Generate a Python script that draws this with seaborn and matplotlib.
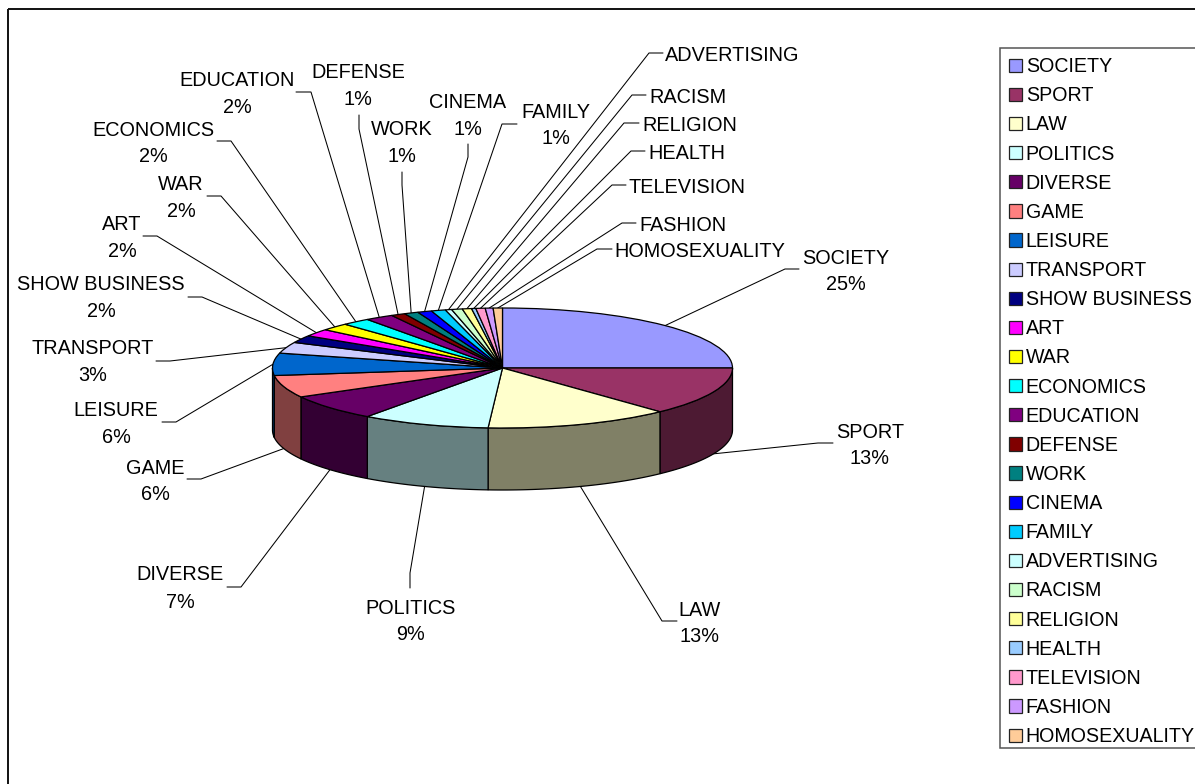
import numpy as np
import matplotlib
matplotlib.use("Agg")
import matplotlib.pyplot as plt
from matplotlib.patches import Patch, Rectangle
import seaborn as sns

# Share of articles per topic, in percent
topics = ["SOCIETY", "SPORT", "LAW", "POLITICS", "DIVERSE", "GAME", "LEISURE", "TRANSPORT",
          "SHOW BUSINESS", "ART", "WAR", "ECONOMICS", "EDUCATION", "DEFENSE", "WORK", "CINEMA",
          "FAMILY", "ADVERTISING", "RACISM", "RELIGION", "HEALTH", "TELEVISION", "FASHION",
          "HOMOSEXUALITY"]
shares = [25, 13, 13, 9, 7, 6, 6, 3, 2, 2, 2, 2, 2, 1, 1, 1, 1,
          0.45, 0.75, 0.65, 0.30, 0.65, 0.55, 0.65]
colours = ["#9999FF", "#993366", "#FFFFCC", "#CCFFFF", "#660066", "#FF8080", "#0066CC", "#CCCCFF",
           "#000080", "#FF00FF", "#FFFF00", "#00FFFF", "#800080", "#800000", "#008080", "#0000FF",
           "#00CCFF", "#CCFFFF", "#CCFFCC", "#FFFF99", "#99CCFF", "#FF99CC", "#CC99FF", "#FFCC99"]

# Label placement in canvas pixels: text centre x, name y, percent y (None = name only)
label_x = [846, 870, 700, 410.5, 180, 155, 116, 93, 101, 122, 181, 153, 237, 358, 402, 468, 556,
           732, 688, 690, 687, 687.5, 683, 700]
label_y = [258, 432, 610, 608, 575, 468, 410, 348, 284, 224, 184, 130, 80, 72, 129, 102, 112,
           55, 97, 125, 153, 187, 225, 251]
percent_y = [284, 458, 636, 635, 602, 494, 437, 375, 311, 251, 211, 156, 107, 99, 156, 129, 138,
             None, None, None, None, None, None, None]
# Leader route from the label side towards the slice: stub end, then elbow
leader_routes = [
    [(799, 269), (785, 269)], [(833, 443), (818, 443)], [(677, 621), (662, 621)],
    [(410, 588), (410, 573)], [(227, 587), (241, 587)], [(187, 479), (201, 479)],
    [(162, 422), (176, 422)], [(156, 361), (170, 361)], [(188, 297), (202, 297)],
    [(143, 236), (157, 236)], [(207, 196), (221, 196)], [(217, 141), (231, 141)],
    [(296, 92), (311, 92)], [(359, 115), (359, 129)], [(402, 172), (402, 185)],
    [(468, 144), (468, 157)], [(517, 124), (502, 124)], [(663, 53), (649, 53)],
    [(646, 95), (632, 95)], [(639, 123), (624, 123)], [(645, 151), (631, 151)],
    [(626, 185), (612, 185)], [(636, 223), (622, 223)], [(612, 249), (597, 249)],
]

WIDTH, HEIGHT = 1195, 784
CX, CY, RX, RY, DEPTH = 502.5, 368.0, 230.0, 60.0, 62.0

sns.set_theme(style="white")
plt.rcParams["font.family"] = ["Liberation Sans", "DejaVu Sans"]
FONT_PT = 14.3
LEGEND_PT = 14.1
palette = sns.color_palette(colours)

fig = plt.figure(figsize=(WIDTH / 100, HEIGHT / 100), dpi=100, facecolor="white")

# Page layer in pixel coordinates: outer frame, labels, leaders, legend
page = fig.add_axes([0, 0, 1, 1])
page.set_xlim(0, WIDTH)
page.set_ylim(HEIGHT, 0)
page.axis("off")
page.add_patch(Rectangle((8, 9), WIDTH + 50, HEIGHT + 50, fill=False, edgecolor="#111111", linewidth=1.4))

# Slice boundaries as clockwise angles from twelve o'clock
edges = np.radians(np.concatenate([[0], np.cumsum(shares)]) / np.sum(shares) * 360)
mids = (edges[:-1] + edges[1:]) / 2

for i, name in enumerate(topics):
    t = mids[i]
    ax_x = CX + RX * np.sin(t)
    ax_y = CY - RY * np.cos(t)
    if np.pi / 2 < t < 3 * np.pi / 2:
        ax_y += DEPTH
    route = leader_routes[i] + [(ax_x, ax_y)]
    page.plot(*zip(*route), color="black", linewidth=0.75, solid_joinstyle="miter")
    page.text(label_x[i], label_y[i], name, ha="center", va="center", fontsize=FONT_PT, color="black")
    if percent_y[i] is not None:
        page.text(label_x[i], percent_y[i], f"{shares[i]}%", ha="center", va="center",
                  fontsize=FONT_PT, color="black")

# Legend entries over a box that runs past the right edge of the page
page.add_patch(Rectangle((1000, 48), 250, 700, facecolor="white", edgecolor="#555555", linewidth=1.1))
handles = [Patch(facecolor=c, edgecolor="#222222", linewidth=0.9) for c in palette]
legend = page.legend(handles, topics, loc="upper left", bbox_to_anchor=(1000, 48),
                     bbox_transform=page.transData, borderaxespad=0, fontsize=LEGEND_PT,
                     labelcolor="black", frameon=False, handlelength=0.67, handleheight=0.67,
                     handletextpad=0.17, labelspacing=0.517, borderpad=0.47)

# Pie layer: a unit pie stretched into an ellipse by the axis limits
pie_ax = fig.add_axes([0, 0, 1, 1])
pie_ax.patch.set_alpha(0)
pie_ax.pie(shares, colors=palette, startangle=90, counterclock=False, radius=1,
           wedgeprops=dict(edgecolor="black", linewidth=0.9))
pie_ax.set_aspect("auto")
pie_ax.set_xlim(-CX / RX, (WIDTH - CX) / RX)
pie_ax.set_ylim((CY - HEIGHT) / RY, CY / RY)

# Side wall of the front half of the pie, in a darker shade of each slice
wall = DEPTH / RY
for start, stop, colour in zip(edges[:-1], edges[1:], palette):
    lo, hi = max(start, np.pi / 2), min(stop, 3 * np.pi / 2)
    if hi <= lo:
        continue
    t = np.linspace(lo, hi, 60)
    xs = np.concatenate([np.sin(t), np.sin(t[::-1])])
    ys = np.concatenate([np.cos(t), np.cos(t[::-1]) - wall])
    pie_ax.fill(xs, ys, facecolor=tuple(0.5 * c for c in colour), edgecolor="black",
                linewidth=0.9, zorder=0.5)

fig.savefig("out.png", dpi=100)
